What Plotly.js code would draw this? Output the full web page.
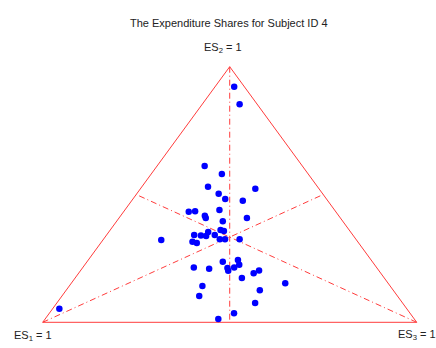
<!DOCTYPE html>
<html>
<head>
<meta charset="utf-8">
<script src="https://cdn.plot.ly/plotly-3.0.1.min.js"></script>
<style>
  html, body { margin: 0; padding: 0; background: #fff; }
  #chart { width: 436px; height: 348px; }
</style>
</head>
<body>
<div id="chart"></div>
<script>
// Expenditure shares of each observation (ES1 + ES2 + ES3 = 1)
const es1 = [0.261, 0.231, 0.293, 0.170, 0.278, 0.271, 0.227, 0.393, 0.375, 0.308,
             0.358, 0.360, 0.250, 0.321, 0.344, 0.337, 0.381, 0.424, 0.407, 0.394,
             0.369, 0.522, 0.442, 0.433, 0.364, 0.350, 0.311, 0.400, 0.356, 0.362,
             0.400, 0.403, 0.381, 0.489, 0.450, 0.381, 0.340, 0.320, 0.502, 0.530,
             0.357, 0.275, 0.394, 0.471, 0.524, 0.027, 0.047, 0.929];
const es2 = [0.612, 0.580, 0.530, 0.523, 0.503, 0.482, 0.476, 0.433, 0.435, 0.439,
             0.417, 0.408, 0.408, 0.395, 0.361, 0.357, 0.353, 0.342, 0.340, 0.338,
             0.342, 0.322, 0.315, 0.310, 0.325, 0.325, 0.325, 0.237, 0.244, 0.225,
             0.212, 0.202, 0.214, 0.214, 0.210, 0.173, 0.192, 0.203, 0.142, 0.103,
             0.125, 0.153, 0.076, 0.035, 0.013, 0.922, 0.853, 0.053];
const es3 = [0.127, 0.189, 0.177, 0.307, 0.219, 0.247, 0.297, 0.174, 0.190, 0.253,
             0.225, 0.232, 0.342, 0.284, 0.295, 0.306, 0.266, 0.234, 0.253, 0.268,
             0.289, 0.156, 0.243, 0.257, 0.311, 0.325, 0.364, 0.363, 0.400, 0.413,
             0.388, 0.395, 0.405, 0.297, 0.340, 0.446, 0.468, 0.477, 0.356, 0.367,
             0.518, 0.572, 0.530, 0.494, 0.463, 0.051, 0.100, 0.018];

// corners of the simplex: ES1 = 1, ES2 = 1, ES3 = 1
const cornerES2 = [0, 1, 0];
const cornerES3 = [0, 0, 1];
const cornerLabels = ['ES<sub>1</sub> = 1', 'ES<sub>2</sub> = 1', 'ES<sub>3</sub> = 1'];

// shares -> plane (ES1 corner bottom left, ES2 top, ES3 bottom right)
function px(e2, e3) { return e3 + e2 / 2; }
function py(e2) { return e2; }

const traces = [];

// triangle outline
const triES2 = cornerES2.concat([cornerES2[0]]);
const triES3 = cornerES3.concat([cornerES3[0]]);
traces.push({
    x: triES2.map((v, i) => px(v, triES3[i])),
    y: triES2.map(v => py(v)),
    mode: 'lines',
    line: { color: '#ff3c3c', width: 1 },
    hoverinfo: 'skip'
});

// medians: each corner to the midpoint of the opposite side
for (let k = 0; k < 3; k++) {
    const a = (k + 1) % 3, b = (k + 2) % 3;
    const m2 = (cornerES2[a] + cornerES2[b]) / 2;
    const m3 = (cornerES3[a] + cornerES3[b]) / 2;
    traces.push({
        x: [px(cornerES2[k], cornerES3[k]), px(m2, m3)],
        y: [py(cornerES2[k]), py(m2)],
        mode: 'lines',
        line: { color: '#ff3c3c', width: 1, dash: '6px,3px,1px,3px' },
        hoverinfo: 'skip'
    });
}

// observations
traces.push({
    x: es2.map((v, i) => px(v, es3[i])),
    y: es2.map(v => py(v)),
    text: es1.map(v => 'ES1 = ' + v),
    mode: 'markers',
    marker: { color: '#0000ff', size: 6.5 },
    cliponaxis: false
});

const labelPos = [
    { dx: -0.025, dy: -0.055 },
    { dx: -0.017, dy: 0.075 },
    { dx: 0.0, dy: -0.05 }
];

const layout = {
    width: 436,
    height: 348,
    showlegend: false,
    paper_bgcolor: '#ffffff',
    plot_bgcolor: '#ffffff',
    margin: { l: 0, r: 0, t: 0, b: 0 },
    font: { family: 'Liberation Sans, Arial, sans-serif', size: 11, color: '#222' },
    xaxis: { range: [-0.1142, 1.0516], visible: false, fixedrange: true },
    yaxis: { range: [-0.1005, 1.261], visible: false, fixedrange: true },
    annotations: cornerLabels.map((t, k) => ({
        x: px(cornerES2[k], cornerES3[k]) + labelPos[k].dx,
        y: py(cornerES2[k]) + labelPos[k].dy,
        text: t,
        showarrow: false,
        font: { size: 11, color: '#222' }
    })).concat([{
        xref: 'paper', yref: 'paper',
        x: 0.525, y: 1 - 15 / 348,
        text: 'The Expenditure Shares for Subject ID 4',
        showarrow: false,
        font: { size: 11, color: '#222' }
    }])
};

Plotly.newPlot('chart', traces, layout, { displayModeBar: false, staticPlot: true });
</script>
</body>
</html>
